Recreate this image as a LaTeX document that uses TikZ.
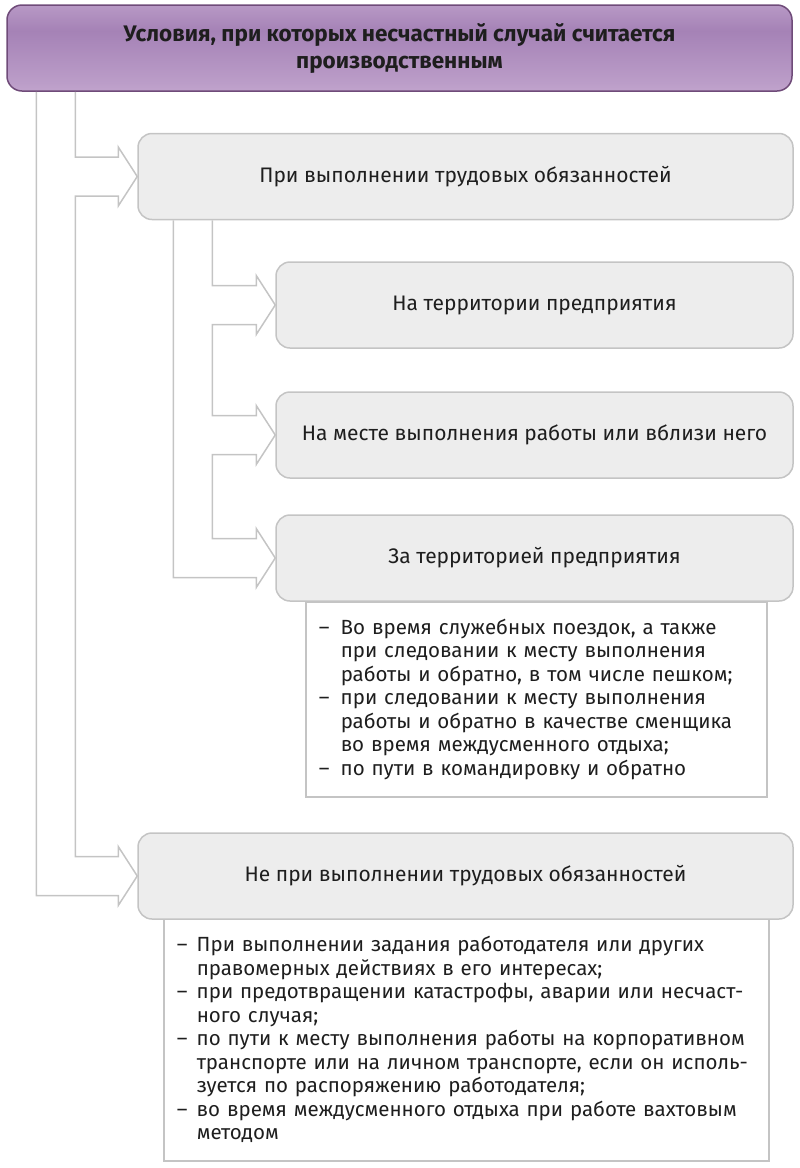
\documentclass[tikz,border=0pt]{standalone}
\usepackage{fontspec}
\setmainfont{Fira Sans}
\usetikzlibrary{calc}

\definecolor{boxfill}{HTML}{EDEDED}
\definecolor{boxline}{HTML}{C4C4C4}
\definecolor{textdark}{HTML}{1E1E1E}
\definecolor{titleline}{HTML}{6F4B79}
\definecolor{titletop}{HTML}{EAD6EE}
\definecolor{titlemid}{HTML}{A582B6}
\definecolor{titlebot}{HTML}{DCC5E3}
\pgfdeclareverticalshading{titleshading}{100bp}{color(0bp)=(titlebot); color(30bp)=(titlemid!60!titlebot); color(60bp)=(titlemid); color(88bp)=(titlemid!50!titletop); color(100bp)=(titletop)}

% one item of a dashed list; the dash hangs in the left skip
\newcommand\dashitem{\par\noindent\llap{\makebox[\leftskip][l]{–}}}
% hollow arrow from the trunk into the west side of a node
\newcommand\hollowhead[2]{-- ($(#1.west)+(-#2,-19.5)$) -- ($(#1.west)+(-19,-19.5)$) -- ($(#1.west)+(-19,-29.5)$) -- (#1.west) -- ($(#1.west)+(-19,29.5)$) -- ($(#1.west)+(-19,19.5)$) -- ($(#1.west)+(-#2,19.5)$)}

\tikzset{
  titlebox/.style={draw=titleline, line width=1.5pt, shading=titleshading, rounded corners=15pt, minimum width=785pt, minimum height=86pt, align=center, text=textdark, font=\bfseries\fontsize{22.5}{27}\selectfont},
  catbox/.style={draw=boxline, fill=boxfill, line width=1.5pt, rounded corners=14pt, minimum height=86pt, inner sep=0pt, text=textdark, font=\fontsize{21}{24}\selectfont},
  listbox/.style={draw=boxline, fill=white, line width=1.5pt, anchor=north west, align=left, inner xsep=13pt, inner ysep=0pt, text=textdark, font=\fontsize{20.5}{23.5}\selectfont},
  link/.style={draw=boxline, line width=1.5pt, line join=miter},
}

\begin{document}
\begin{tikzpicture}[x=1pt, y=-1pt]
	\useasboundingbox (0,0) rectangle (800,1168);

	\node[titlebox] (title) at (399.5,48) {Условия, при которых несчастный случай считается\\производственным};

	\node[catbox, minimum width=655pt] (duty) at (465.5,176.5) {При выполнении трудовых обязанностей};
	\node[catbox, minimum width=517pt] (site) at (534.5,305) {На территории предприятия};
	\node[catbox, minimum width=517pt] (place) at (534.5,435) {На месте выполнения работы или вблизи него};
	\node[listbox, text width=435pt, minimum height=195pt] (outsideList) at (305,601) {\leftskip=22pt
		\dashitem Во время служебных поездок, а также\newline при следовании к месту выполнения\newline работы и обратно, в том числе пешком;
		\dashitem при следовании к месту выполнения\newline работы и обратно в качестве сменщика\newline во время междусменного отдыха;
		\dashitem по пути в командировку и обратно\par\vspace{8pt}};
	\node[catbox, minimum width=517pt] (outside) at (534.5,558) {За территорией предприятия};

	\node[listbox, text width=579pt, minimum height=242pt] (offdutyList) at (163,918) {\leftskip=20pt
		\dashitem При выполнении задания работодателя или других\newline правомерных действиях в его интересах;
		\dashitem при предотвращении катастрофы, аварии или несчаст-\newline ного случая;
		\dashitem по пути к месту выполнения работы на корпоративном\newline транспорте или на личном транспорте, если он исполь-\newline зуется по распоряжению работодателя;
		\dashitem во время междусменного отдыха при работе вахтовым\newline методом\par\vspace{8pt}};
	\node[catbox, minimum width=655pt] (offduty) at (465.5,876) {Не при выполнении трудовых обязанностей};

	% trunk from the title
	\draw[link] ($(duty.west |- title.south)+(-62,0)$) \hollowhead{duty}{62} \hollowhead{offduty}{62}
		-- ($(offduty.west)+(-101,19.5)$) -- ($(duty.west |- title.south)+(-101,0)$);
	% trunk from the first category
	\draw[link] ($(site.west |- duty.south)+(-63,0)$) \hollowhead{site}{63} \hollowhead{place}{63} \hollowhead{outside}{63}
		-- ($(outside.west)+(-102,19.5)$) -- ($(site.west |- duty.south)+(-102,0)$);
\end{tikzpicture}
\end{document}
